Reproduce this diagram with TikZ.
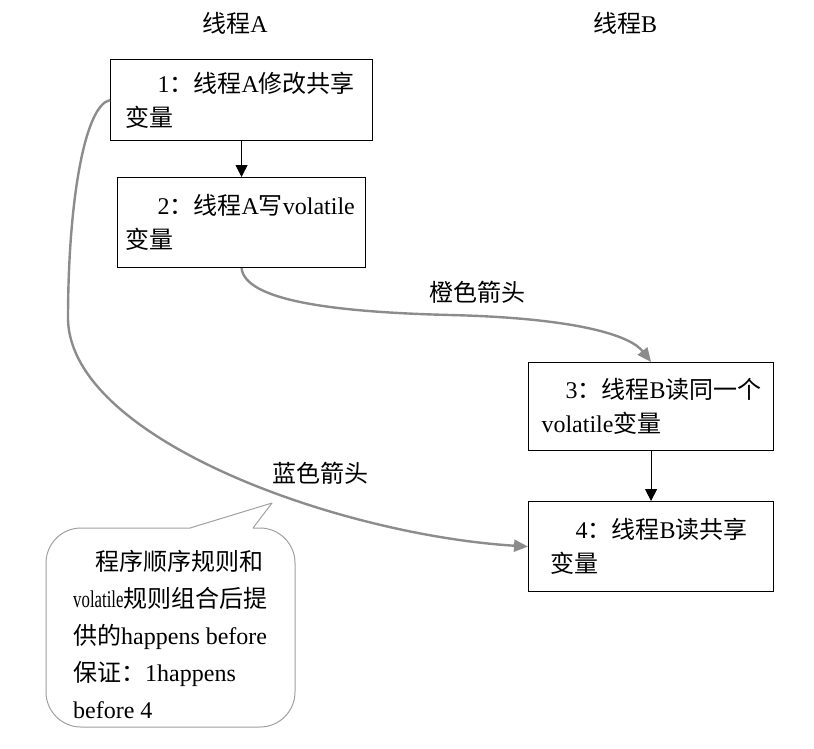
\documentclass[tikz,border=0pt]{standalone}
\usepackage{fontspec}
\setmainfont{Liberation Serif}
\newfontfamily\cjk{Noto Sans CJK SC}
\newcommand{\C}[1]{{\cjk #1}}
\usetikzlibrary{arrows.meta}
\definecolor{arrgray}{HTML}{8C8C8C}
\definecolor{calgray}{HTML}{A0A0A0}
\begin{document}
\begin{tikzpicture}[x=1pt,y=-1pt,
  font=\fontsize{24}{34}\selectfont,
  box/.style={draw, line width=1.1pt, align=left, inner ysep=0pt, anchor=north west},
  lbl/.style={inner sep=0pt},
  garrow/.style={draw=arrgray, line width=2.4pt, -{Triangle[length=14pt,width=12pt]}},
  barrow/.style={draw=black, line width=1pt, -{Triangle[length=12pt,width=12pt]}}]
\useasboundingbox (0,0) rectangle (814,748);

% headers
\node[lbl] (hA) at (235,23) {\C{线程}A};
\node[lbl] (hB) at (625,23) {\C{线程}B};

% boxes
\node[box, text width=232pt, inner xsep=15pt, minimum height=81pt] (n1) at (110,59)
  {\hspace*{32pt}1\C{：线程}A\C{修改共享}\\\C{变量}};
\node[box, text width=232pt, inner xsep=8pt, minimum height=90pt] (n2) at (117,177)
  {\hspace*{32pt}2\C{：线程}A\C{写}volatile\\\C{变量}};
\node[box, text width=219pt, inner xsep=13pt, minimum height=88pt] (n3) at (528,362)
  {\hspace*{24pt}3\C{：线程}B\C{读同一个}\\volatile\C{变量}};
\node[box, text width=201pt, inner xsep=22pt, minimum height=90pt] (n4) at (528,501)
  {\hspace*{25pt}4\C{：线程}B\C{读共享}\\\C{变量}};

% labels
\node[lbl] (lo) at (477,292) {\C{橙色箭头}};
\node[lbl] (lb) at (320,473) {\C{蓝色箭头}};

% callout
\draw[calgray, line width=1pt, line join=round]
  (253,528) -- (260,528) .. controls (279.3,528) and (295,543.7) .. (295,563)
  -- (295,692) .. controls (295,711.3) and (279.3,727) .. (260,727)
  -- (81,727) .. controls (61.7,727) and (46,711.3) .. (46,692)
  -- (46,563) .. controls (46,543.7) and (61.7,528) .. (81,528)
  -- (190,528) -- (272,503) -- cycle;
\node[inner sep=0pt, anchor=north west, align=left, font=\fontsize{24}{37}\selectfont] (ct) at (73,550)
  {\hspace*{22pt}\C{程序顺序规则和}\\
   \scalebox{0.7}[1]{volatile}\C{规则组合后提}\\
   \C{供的}happens before\\
   \C{保证：}1happens\\
   before 4};

% connectors
\draw[barrow] (n1.south) -- (n2.north);
\draw[barrow] (n3.south) -- (n4.north);
\draw[garrow] (n2.south) .. controls (245,300) and (330,312) .. (450,315)
  .. controls (575,318) and (630,335) .. (n3.north);
\draw[garrow] (n1.west) .. controls (85,105) and (68,200) .. (68,320)
  .. controls (72,440) and (340,535) .. (n4.west);
\end{tikzpicture}
\end{document}
